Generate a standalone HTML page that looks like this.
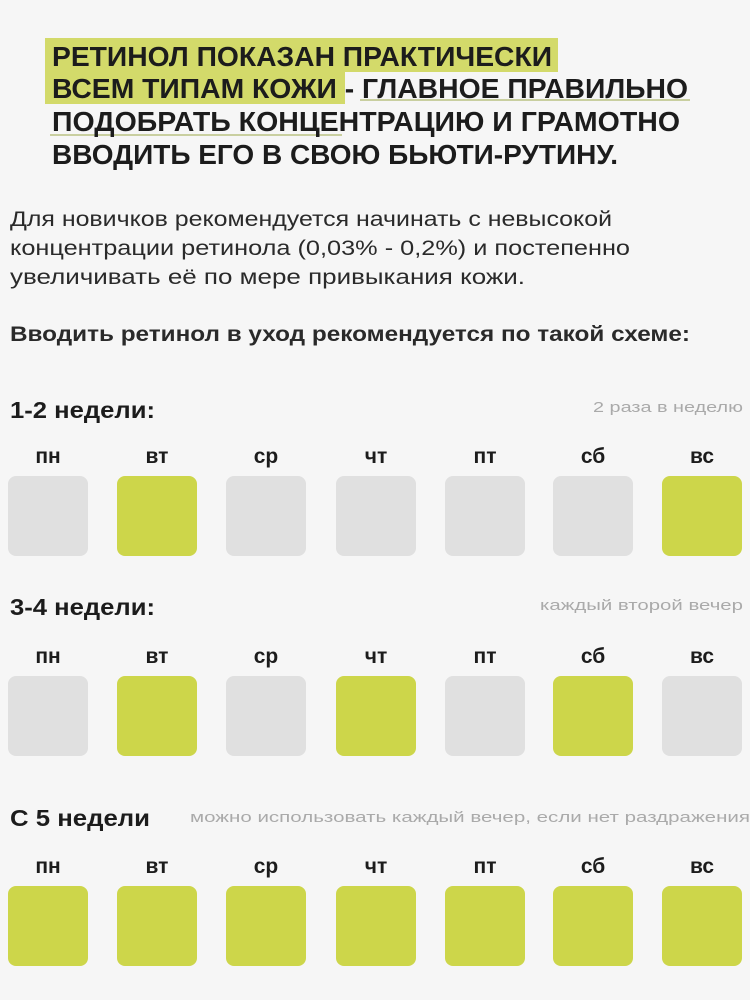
<!DOCTYPE html>
<html><head><meta charset="utf-8"><style>
html,body{margin:0;padding:0;background:#f6f6f6;}
svg{display:block}
text{font-family:"Liberation Sans",sans-serif;}
</style></head><body>
<svg width="750" height="1000" viewBox="0 0 750 1000">
<rect width="750" height="1000" fill="#f6f6f6"/>
<rect x="45" y="38" width="513" height="34" fill="#d3da6a"/>
<rect x="45" y="72" width="300" height="32" fill="#d3da6a"/>
<rect x="360" y="99" width="330" height="2" fill="#c9cfa0"/>
<rect x="50" y="134" width="292" height="2" fill="#c9cfa0"/>
<g font-weight="bold" font-size="28" fill="#1c1c1c">
<text x="52" y="66" textLength="500" lengthAdjust="spacingAndGlyphs">РЕТИНОЛ ПОКАЗАН ПРАКТИЧЕСКИ</text>
<text x="52" y="98" textLength="636" lengthAdjust="spacingAndGlyphs">ВСЕМ ТИПАМ КОЖИ - ГЛАВНОЕ ПРАВИЛЬНО</text>
<text x="52" y="131" textLength="628" lengthAdjust="spacingAndGlyphs">ПОДОБРАТЬ КОНЦЕНТРАЦИЮ И ГРАМОТНО</text>
<text x="52" y="164" textLength="566" lengthAdjust="spacingAndGlyphs">ВВОДИТЬ ЕГО В СВОЮ БЬЮТИ-РУТИНУ.</text>
</g>
<g font-size="21" fill="#2a2a2a">
<text x="10" y="226" textLength="602" lengthAdjust="spacingAndGlyphs">Для новичков рекомендуется начинать с невысокой</text>
<text x="10" y="255" textLength="620" lengthAdjust="spacingAndGlyphs">концентрации ретинола (0,03% - 0,2%) и постепенно</text>
<text x="10" y="284" textLength="515" lengthAdjust="spacingAndGlyphs">увеличивать её по мере привыкания кожи.</text>
<text x="10" y="341" font-weight="bold" textLength="680" lengthAdjust="spacingAndGlyphs">Вводить ретинол в уход рекомендуется по такой схеме:</text>
</g>
<g font-size="23" fill="#1c1c1c" font-weight="bold">
<text x="10" y="418" textLength="145" lengthAdjust="spacingAndGlyphs">1-2 недели:</text>
<text x="10" y="615" textLength="145" lengthAdjust="spacingAndGlyphs">3-4 недели:</text>
<text x="10" y="826" textLength="140" lengthAdjust="spacingAndGlyphs">С 5 недели</text>
</g>
<g font-size="15" fill="#aaaaaa">
<text x="593" y="412" textLength="150" lengthAdjust="spacingAndGlyphs">2 раза в неделю</text>
<text x="540" y="610" textLength="203" lengthAdjust="spacingAndGlyphs">каждый второй вечер</text>
<text x="190" y="822" textLength="560" lengthAdjust="spacingAndGlyphs">можно использовать каждый вечер, если нет раздражения</text>
</g>
<g font-size="21" font-weight="bold" fill="#1c1c1c" text-anchor="middle">
<g id="d1" transform="translate(0,463)">
<text x="48" y="0">пн</text><text x="157" y="0">вт</text><text x="266" y="0">ср</text><text x="376" y="0">чт</text><text x="485" y="0">пт</text><text x="593" y="0">сб</text><text x="702" y="0">вс</text>
</g>
<use href="#d1" transform="translate(0,200)"/>
<use href="#d1" transform="translate(0,410)"/>
</g>
<g>
<rect x="8" y="476" width="80" height="80" rx="8" fill="#e0e0e0"/>
<rect x="117" y="476" width="80" height="80" rx="8" fill="#cdd64a"/>
<rect x="226" y="476" width="80" height="80" rx="8" fill="#e0e0e0"/>
<rect x="336" y="476" width="80" height="80" rx="8" fill="#e0e0e0"/>
<rect x="445" y="476" width="80" height="80" rx="8" fill="#e0e0e0"/>
<rect x="553" y="476" width="80" height="80" rx="8" fill="#e0e0e0"/>
<rect x="662" y="476" width="80" height="80" rx="8" fill="#cdd64a"/>

<rect x="8" y="676" width="80" height="80" rx="8" fill="#e0e0e0"/>
<rect x="117" y="676" width="80" height="80" rx="8" fill="#cdd64a"/>
<rect x="226" y="676" width="80" height="80" rx="8" fill="#e0e0e0"/>
<rect x="336" y="676" width="80" height="80" rx="8" fill="#cdd64a"/>
<rect x="445" y="676" width="80" height="80" rx="8" fill="#e0e0e0"/>
<rect x="553" y="676" width="80" height="80" rx="8" fill="#cdd64a"/>
<rect x="662" y="676" width="80" height="80" rx="8" fill="#e0e0e0"/>

<rect x="8" y="886" width="80" height="80" rx="8" fill="#cdd64a"/>
<rect x="117" y="886" width="80" height="80" rx="8" fill="#cdd64a"/>
<rect x="226" y="886" width="80" height="80" rx="8" fill="#cdd64a"/>
<rect x="336" y="886" width="80" height="80" rx="8" fill="#cdd64a"/>
<rect x="445" y="886" width="80" height="80" rx="8" fill="#cdd64a"/>
<rect x="553" y="886" width="80" height="80" rx="8" fill="#cdd64a"/>
<rect x="662" y="886" width="80" height="80" rx="8" fill="#cdd64a"/>
</g>
</svg>
</body></html>
